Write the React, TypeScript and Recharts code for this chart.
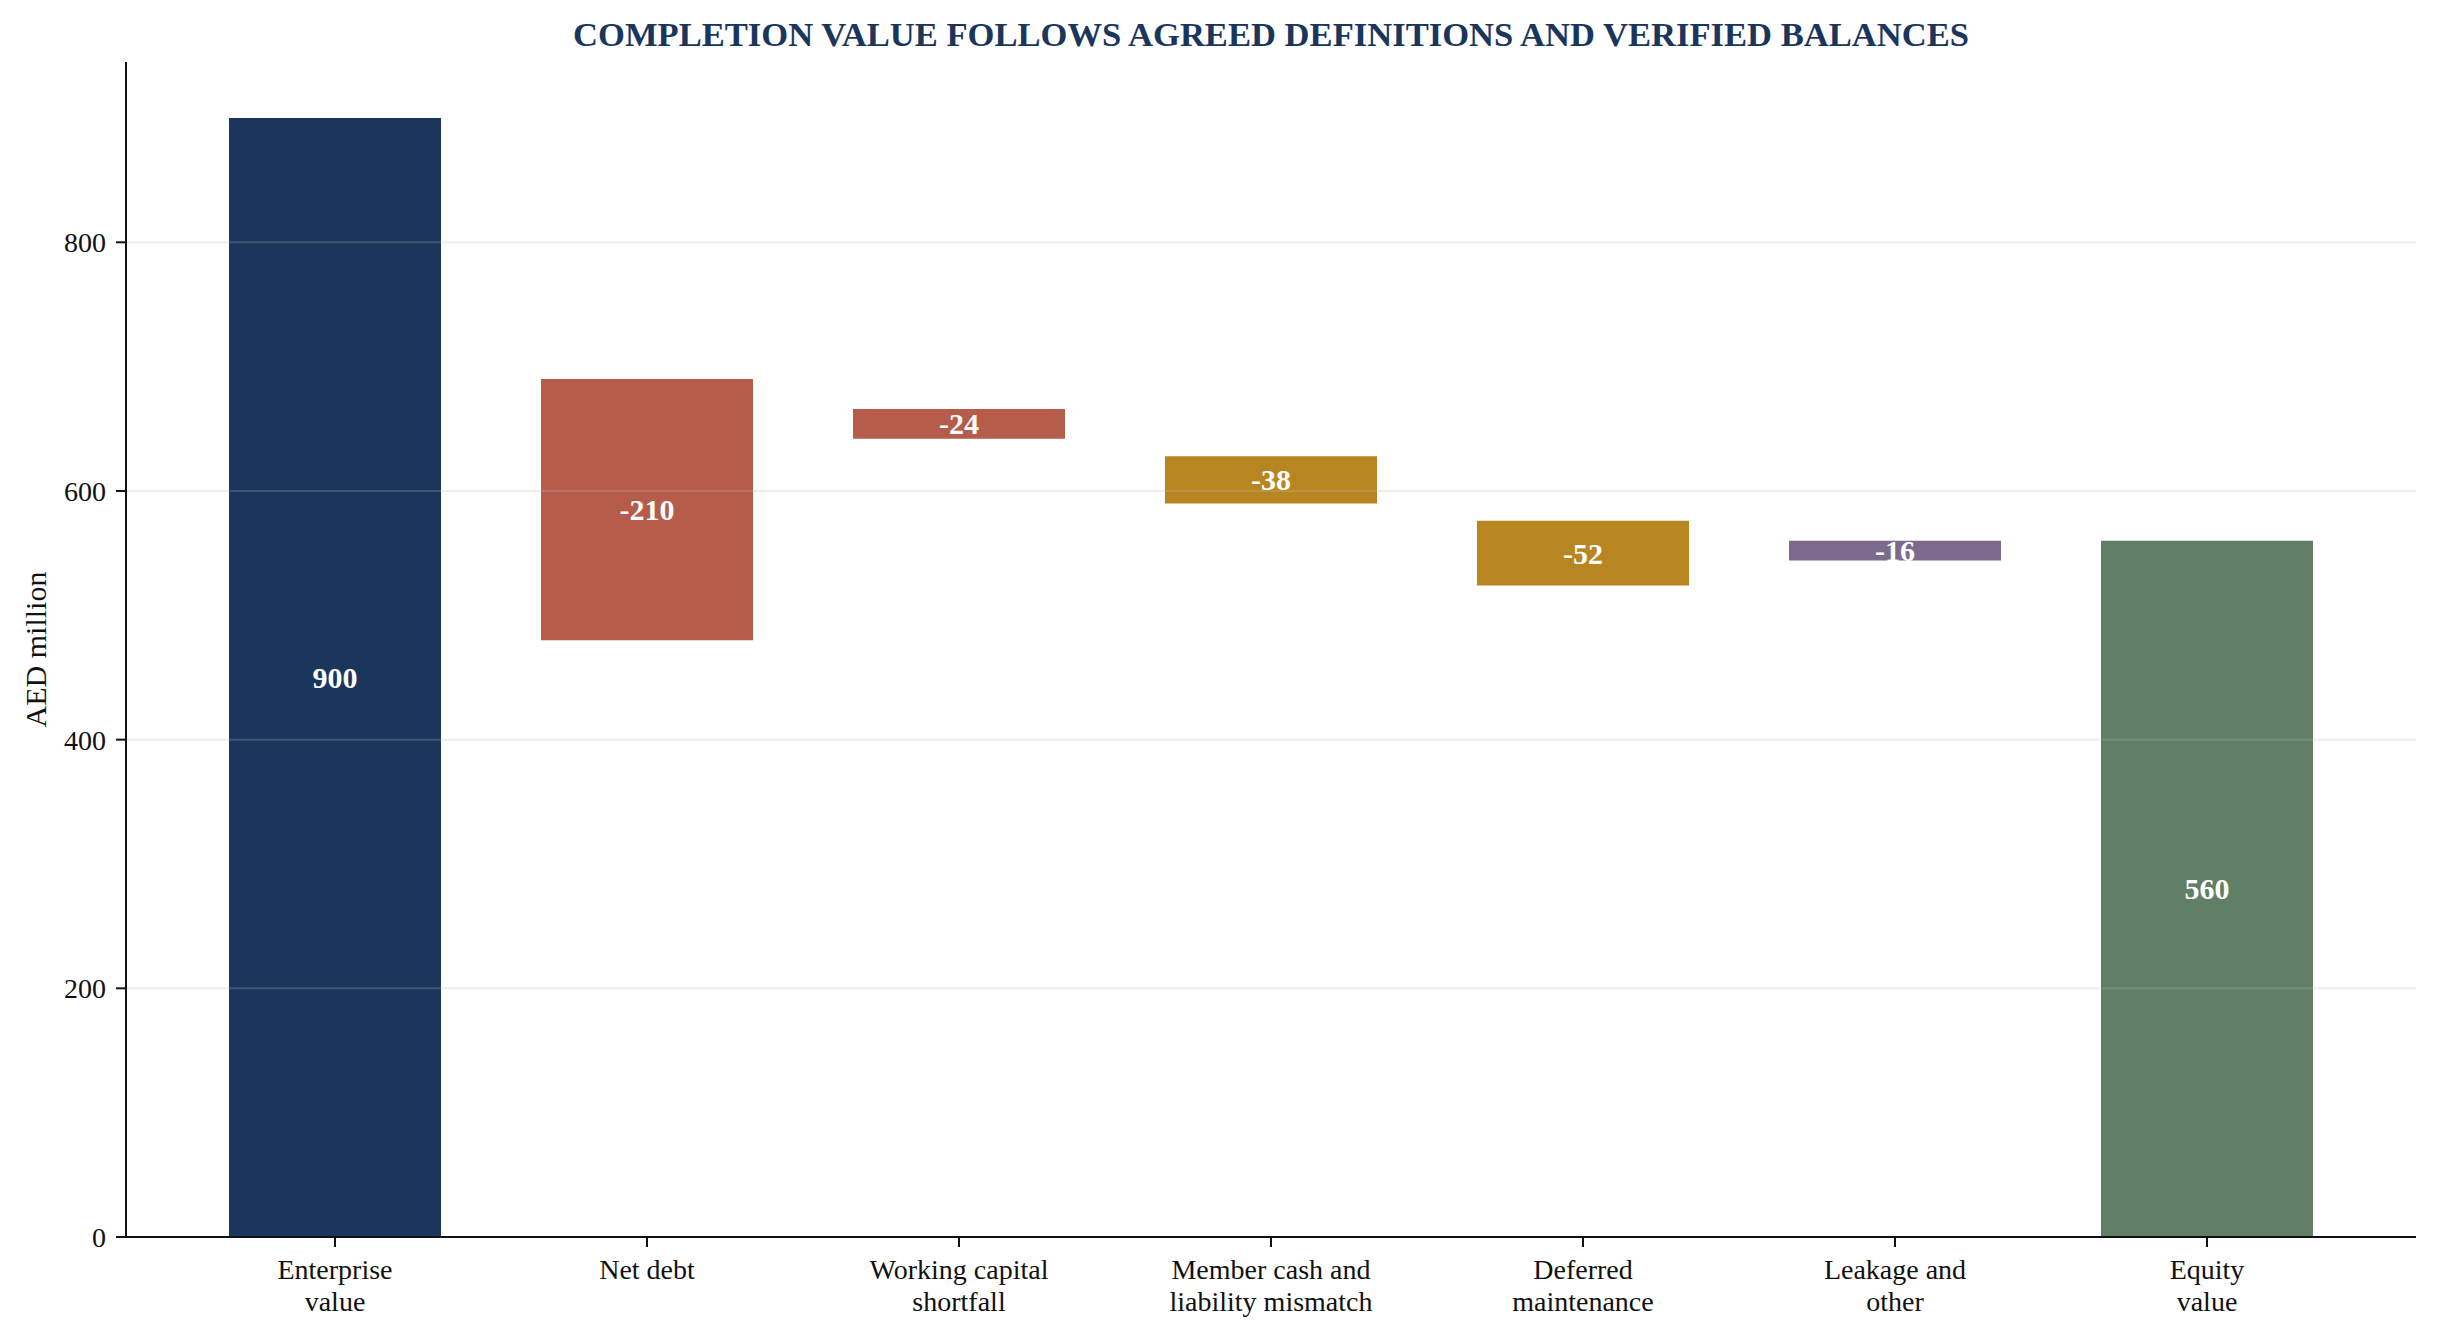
import React from 'react';
import { BarChart, Bar, XAxis, YAxis, Cell, LabelList, ReferenceLine } from 'recharts';

const categories = [
  'Enterprise\nvalue',
  'Net debt',
  'Working capital\nshortfall',
  'Member cash and\nliability mismatch',
  'Deferred\nmaintenance',
  'Leakage and\nother',
  'Equity\nvalue',
];
const values = [900, -210, -24, -38, -52, -16, 560];
const kinds = ['total', 'delta', 'delta', 'delta', 'delta', 'delta', 'total'];
const colors = ['#1a365d', '#b55c4a', '#b55c4a', '#b88621', '#b88621', '#7b6a8d', '#607f66'];
const yTicks = [0, 200, 400, 600, 800];
const gridValues = [200, 400, 600, 800];

const FONT = '"Liberation Serif", "Times New Roman", serif';

// Build range data (replicating the reference's drawing: delta bars hang from running total)
const data = (() => {
  let running = 0;
  return categories.map((name, i) => {
    const v = values[i];
    let range: [number, number];
    if (kinds[i] === 'total') {
      running = v;
      range = [0, v];
    } else {
      running = running + v;
      range = [running + v, running];
    }
    return { name, range, value: v };
  });
})();

const XTick = (props: any) => {
  const { x, y, payload } = props;
  const lines = String(payload.value).split('\n');
  return (
    <text x={x} y={y} textAnchor="middle" fontFamily={FONT} fontSize={28} fill="#111">
      {lines.map((l, i) => (
        <tspan key={i} x={x} dy={i === 0 ? 30 : 32}>
          {l}
        </tspan>
      ))}
    </text>
  );
};

const BarLabel = (props: any) => {
  const { x, y, width, height, value } = props;
  return (
    <text
      x={x + width / 2}
      y={y + height / 2}
      textAnchor="middle"
      dominantBaseline="central"
      fontFamily={FONT}
      fontSize={30}
      fontWeight="bold"
      fill="#ffffff"
    >
      {value}
    </text>
  );
};

const YLabel = (props: any) => {
  const { viewBox } = props;
  const cx = viewBox.x + 35;
  const cy = viewBox.y + viewBox.height / 2;
  return (
    <text
      x={cx}
      y={cy}
      transform={`rotate(-90, ${cx}, ${cy})`}
      textAnchor="middle"
      dominantBaseline="central"
      fontFamily={FONT}
      fontSize={30}
      fill="#111"
    >
      AED million
    </text>
  );
};

export default function App() {
  return (
    <div style={{ position: 'absolute', left: 0, top: 0, width: 2437, height: 1342, background: '#fff' }}>
      <div
        style={{
          position: 'absolute',
          left: 126,
          width: 2290,
          top: 14,
          textAlign: 'center',
          fontFamily: FONT,
          fontWeight: 'bold',
          fontSize: 34.6,
          color: '#1a365d',
          lineHeight: '40px',
        }}
      >
        COMPLETION VALUE FOLLOWS AGREED DEFINITIONS AND VERIFIED BALANCES
      </div>
      <BarChart
        width={2437}
        height={1342}
        data={data}
        margin={{ top: 62, right: 21, bottom: 0, left: 0 }}
        barCategoryGap={0}
      >
        <XAxis
          dataKey="name"
          interval={0}
          height={105}
          tick={<XTick />}
          tickSize={10}
          tickLine={{ stroke: '#111', strokeWidth: 2 }}
          axisLine={{ stroke: '#111', strokeWidth: 2 }}
          padding={{ left: 53, right: 53 }}
        />
        <YAxis
          width={126}
          domain={[0, 945]}
          ticks={yTicks}
          allowDataOverflow
          tickSize={10}
          tickMargin={10}
          tickLine={{ stroke: '#111', strokeWidth: 2 }}
          axisLine={{ stroke: '#111', strokeWidth: 2 }}
          tick={{ fontFamily: FONT, fontSize: 28, fill: '#111' }}
          label={<YLabel />}
        />
        <Bar dataKey="range" barSize={212} isAnimationActive={false}>
          {data.map((d, i) => (
            <Cell key={i} fill={colors[i]} />
          ))}
          <LabelList dataKey="value" content={<BarLabel />} />
        </Bar>
        {gridValues.map((g) => (
          <ReferenceLine key={g} y={g} stroke="#bdbdbd" strokeOpacity={0.25} strokeWidth={2} />
        ))}
      </BarChart>
    </div>
  );
}
